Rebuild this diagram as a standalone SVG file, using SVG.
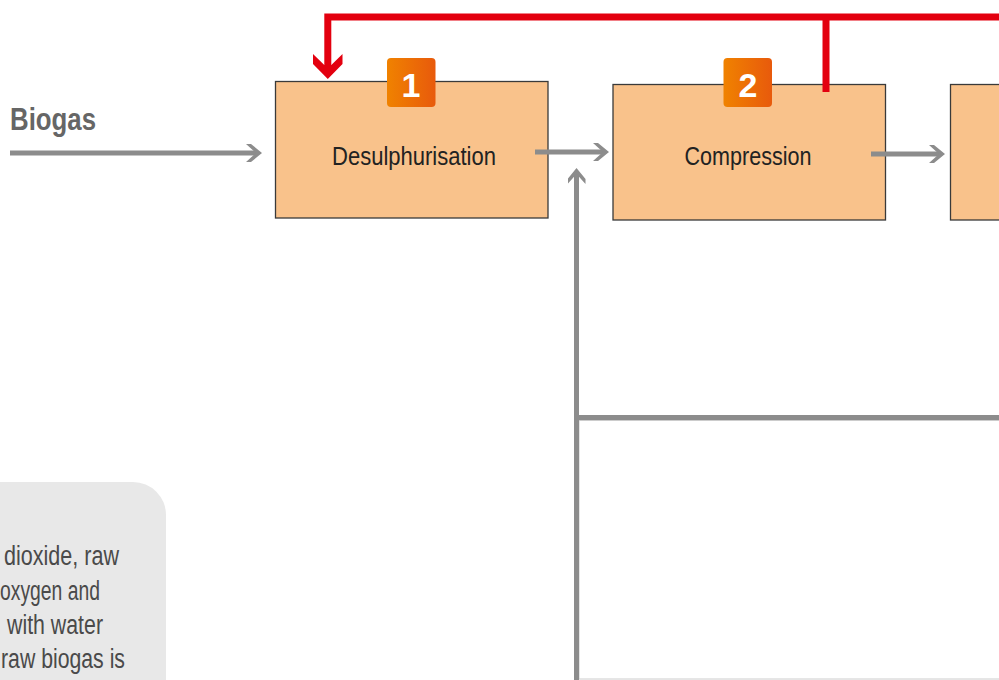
<svg xmlns="http://www.w3.org/2000/svg" width="999" height="680" viewBox="0 0 999 680">
<defs>
<linearGradient id="badgeGrad" x1="0" y1="0" x2="1" y2="0">
<stop offset="0" stop-color="#F08200"/>
<stop offset="1" stop-color="#E85A0C"/>
</linearGradient>
<marker id="chev" viewBox="0 0 16 18" refX="11" refY="9" markerWidth="16" markerHeight="18" orient="auto" markerUnits="userSpaceOnUse">
<path d="M0,0 L5,0 L16,9 L5,18 L0,18 L10,9 Z" fill="#8C8C8C"/>
</marker>
</defs>
<style>
.box{fill:#F9C28B;stroke:#3a3a3a;stroke-width:1.3}
.lbl{font-family:"Liberation Sans",Arial,sans-serif;font-size:25px;fill:#222}
.badge{fill:url(#badgeGrad)}
.num{font-family:"Liberation Sans",Arial,sans-serif;font-size:34px;font-weight:bold;fill:#fff;text-anchor:middle}
.flow{fill:none;stroke:#8C8C8C;stroke-width:5}
.red{fill:none;stroke:#E3000F;stroke-width:7}
.note{font-family:"Liberation Sans",Arial,sans-serif;font-size:27px;fill:#4a4a4a}
</style>
<rect width="999" height="680" fill="#fff"/>
<g id="note-panel">
<path d="M0,482 H133 A33,33 0 0 1 166,515 V690 H0 Z" fill="#E8E8E8"/>
<text class="note" x="4" y="565" textLength="115" lengthAdjust="spacingAndGlyphs">dioxide, raw</text>
<text class="note" x="0" y="600" textLength="100" lengthAdjust="spacingAndGlyphs">oxygen and</text>
<text class="note" x="7" y="634" textLength="96" lengthAdjust="spacingAndGlyphs">with water</text>
<text class="note" x="1" y="668" textLength="124" lengthAdjust="spacingAndGlyphs">raw biogas is</text>
</g>
<g id="lower-box">
<rect x="579" y="420.5" width="430" height="258.5" fill="none" stroke="#cccccc" stroke-width="1"/>
</g>
<g id="biogas-label">
<text x="10" y="130" font-family="'Liberation Sans',Arial,sans-serif" font-size="31" font-weight="bold" fill="#666" textLength="86" lengthAdjust="spacingAndGlyphs">Biogas</text>
</g>
<g id="node-desulphurisation">
<rect class="box" x="275.5" y="81.5" width="272.5" height="136.5"/>
<text class="lbl" x="332" y="165" textLength="164" lengthAdjust="spacingAndGlyphs">Desulphurisation</text>
<rect class="badge" x="387" y="58" width="48.5" height="49" rx="4"/>
<text class="num" x="411" y="96.5">1</text>
</g>
<g id="node-compression">
<rect class="box" x="613" y="84.5" width="272.5" height="135.5"/>
<text class="lbl" x="684.5" y="165" textLength="127" lengthAdjust="spacingAndGlyphs">Compression</text>
<rect class="badge" x="723.5" y="58" width="48.5" height="49" rx="4"/>
<text class="num" x="748" y="96.5">2</text>
</g>
<g id="node-3">
<rect class="box" x="950.5" y="84.5" width="60" height="135.5"/>
</g>
<g id="connectors">
<line class="flow" x1="10" y1="153" x2="257" y2="153" marker-end="url(#chev)"/>
<line class="flow" x1="535" y1="152" x2="604" y2="152" marker-end="url(#chev)"/>
<line class="flow" x1="871" y1="154" x2="940" y2="154" marker-end="url(#chev)"/>
<line class="flow" x1="576.5" y1="682" x2="576.5" y2="173" marker-end="url(#chev)"/>
<line class="flow" x1="574" y1="417.5" x2="1002" y2="417.5"/>
<path class="red" d="M1002,17 H327.8 V66"/>
<line class="red" x1="826" y1="17" x2="826" y2="92"/>
<path d="M313,54 L324.3,65 L331.3,65 L342.5,54 L342.5,64 L327.8,79 L313,64 Z" fill="#E3000F"/>
</g>
</svg>
